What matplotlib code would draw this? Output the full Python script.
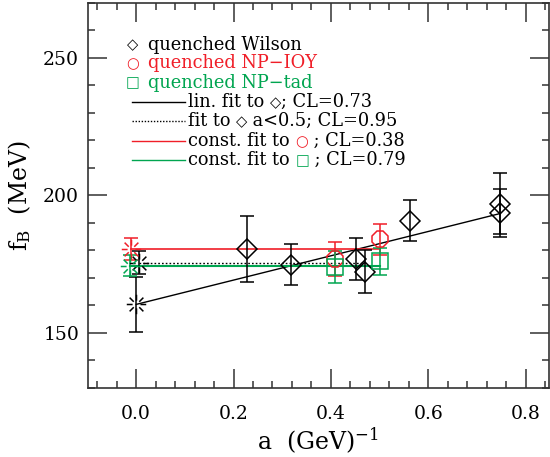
import matplotlib
matplotlib.use("Agg")
import matplotlib.pyplot as plt
import numpy as np
from matplotlib.path import Path
from matplotlib.lines import Line2D

plt.rcParams['font.family'] = ['DejaVu Serif', 'DejaVu Sans']
plt.rcParams['mathtext.fontset'] = 'dejavuserif'

# quenched Wilson (diamonds)
wil_a = [0.227, 0.318, 0.452, 0.470, 0.562, 0.747, 0.747]
wil_f = [180.6, 174.8, 177.0, 172.2, 190.9, 197.0, 193.6]
wil_err = [12.0, 7.5, 7.7, 7.8, 7.6, 11.0, 8.6]
# quenched NP-IOY (circles)
iy_a = [0.409, 0.501]
iy_f = [177.0, 184.0]
iy_err = [6.2, 5.8]
# quenched NP-tad (squares)
tad_a = [0.409, 0.501]
tad_f = [174.0, 176.0]
tad_err = [5.9, 5.0]

# fits: linear to Wilson, const to Wilson a<0.5, const to IOY, const to tad
lin_b, lin_m, lin_err = 160.4, 44.2, 10.0
dot_f, dot_err = 175.6, 4.2
iy_fit, iy_fit_err = 180.6, 4.0
tad_fit, tad_fit_err = 174.5, 3.7

red = '#f01e28'
green = '#00a550'


def burst(r1=0.4, r2=1.0):
    verts, codes = [], []
    for k in range(8):
        t = k * np.pi / 4
        verts += [(r1 * np.cos(t), r1 * np.sin(t)), (r2 * np.cos(t), r2 * np.sin(t))]
        codes += [Path.MOVETO, Path.LINETO]
    return Path(verts, codes)


star = burst()

fig = plt.figure(figsize=(5.5, 4.57), dpi=100)
ax = fig.add_axes([87.5 / 550, 69 / 457, 461.5 / 550, 385 / 457])

eb = dict(capsize=5, elinewidth=1.1, capthick=1.1, linestyle='none', mew=1.1, mfc='none')

# fit lines
xl = np.array([0.0, max(wil_a)])
ax.plot(xl, lin_b + lin_m * xl, color='black', lw=1.0)
ax.plot([0.005, 0.47], [dot_f, dot_f], color='black', lw=1.0, ls=(0, (1.2, 1.5)))
ax.plot([-0.01, 0.50], [iy_fit, iy_fit], color=red, lw=1.2)
ax.plot([-0.012, 0.50], [tad_fit, tad_fit], color=green, lw=1.5)

# extrapolations at a=0
ax.errorbar([0.0], [lin_b], yerr=[lin_err], marker=star, ms=14, color='black', **eb)
ax.errorbar([0.005], [dot_f], yerr=[dot_err], marker=star, ms=14, color='black', **eb)
ax.errorbar([-0.01], [iy_fit], yerr=[iy_fit_err], marker=star, ms=14, color=red, **eb)
ax.errorbar([-0.012], [tad_fit], yerr=[tad_fit_err], marker=star, ms=14, color=green, **eb)

# data
ax.errorbar(wil_a, wil_f, yerr=wil_err, marker='D', ms=10, color='black', **eb)
ax.errorbar(iy_a, iy_f, yerr=iy_err, marker='8', ms=13, color=red, **eb)
ax.errorbar(tad_a, tad_f, yerr=tad_err, marker='s', ms=12, color=green, **eb)

ax.set_xlim(-0.1, 0.848)
ax.set_ylim(130, 270)
ax.set_xticks(np.arange(0, 0.81, 0.2))
ax.set_xticks(np.arange(-0.08, 0.85, 0.04), minor=True)
ax.set_yticks([150, 200, 250])
ax.set_yticks(np.arange(130, 271, 10), minor=True)
ax.tick_params(which='both', direction='in', top=True, right=True, color='#333333', width=1.1)
ax.tick_params(which='major', length=14, labelsize=13.5)
ax.tick_params(axis='x', which='major', pad=12)
ax.tick_params(axis='y', which='major', pad=6)
ax.tick_params(which='minor', length=5)
for s in ax.spines.values():
    s.set_color('#333333')
    s.set_linewidth(1.2)

ax.set_xlabel(r'a  (GeV)$^{-1}$', fontsize=17, labelpad=2)
ax.set_ylabel(r'f$_{\rm B}$  (MeV)', fontsize=17, labelpad=7)

# legend drawn by hand
fs = 12.8
rows = [45, 63.5, 82.5, 101.7, 121, 141, 160]
H = 457


def fy(py):
    return 1 - py / H


def fx(px):
    return px / 550


sym_kw = dict(family=['DejaVu Sans'], fontsize=10.5, va='center', ha='center')
fig.text(fx(133), fy(rows[0]), '\u25c7', color='black', **sym_kw)
fig.text(fx(133), fy(rows[1]), '\u25cb', color=red, **sym_kw)
fig.text(fx(133), fy(rows[2]), '\u25a1', color=green, **sym_kw)
fig.text(fx(148), fy(rows[0]), 'quenched Wilson', color='black', fontsize=fs, va='center')
fig.text(fx(148), fy(rows[1]), 'quenched NP\u2212IOY', color=red, fontsize=fs, va='center')
fig.text(fx(148), fy(rows[2]), 'quenched NP\u2212tad', color=green, fontsize=fs, va='center')

styles = [('black', '-'), ('black', (0, (1, 1.2))), (red, '-'), (green, '-')]
for (c, ls), py in zip(styles, rows[3:]):
    fig.add_artist(Line2D([fx(131.7), fx(185)], [fy(py), fy(py)], color=c, ls=ls, lw=1.0))

renderer = fig.canvas.get_renderer()


def chain(py, pieces):
    x = 188.0
    for txt, col, fam, size in pieces:
        kw = dict(fontsize=size, color=col, va='baseline', ha='left')
        if fam:
            kw['family'] = fam
        t = fig.text(fx(x), fy(py + 5), txt, **kw)
        x = t.get_window_extent(renderer).x1


sym = ['DejaVu Sans']
chain(rows[3], [('lin. fit to ', 'black', None, fs), ('\u25c7', 'black', sym, 10.5),
                ('; CL=0.73', 'black', None, fs)])
chain(rows[4], [('fit to ', 'black', None, fs), ('\u25c7', 'black', sym, 10.5),
                (' a<0.5; CL=0.95', 'black', None, fs)])
chain(rows[5], [('const. fit to ', 'black', None, fs), ('\u25cb', red, sym, 10.5),
                (' ; CL=0.38', 'black', None, fs)])
chain(rows[6], [('const. fit to ', 'black', None, fs), ('\u25a1', green, sym, 10.5),
                (' ; CL=0.79', 'black', None, fs)])

fig.savefig('out.png', dpi=100)
